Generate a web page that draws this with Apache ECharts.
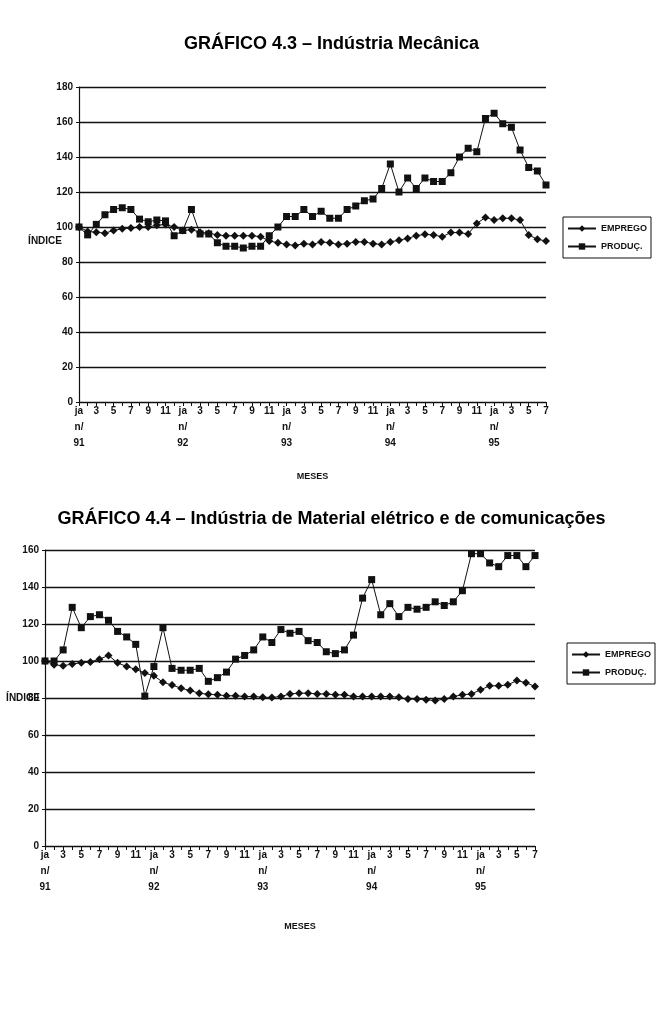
<!DOCTYPE html>
<html>
<head>
<meta charset="UTF-8">
<title>Graficos 4.3 e 4.4</title>
<script src="https://cdn.jsdelivr.net/npm/echarts@6/dist/echarts.min.js"></script>
<style>body{margin:0;background:#fff;}</style>
</head>
<body>
<div id="myChart" style="width:663px;height:1020px;"></div>
<script type="text/javascript">
// meses jan/91 .. jul/95 (so os impares aparecem no eixo)
var meses = [
  'ja\nn/\n91','2','3','4','5','6','7','8','9','10','11','12',
  'ja\nn/\n92','2','3','4','5','6','7','8','9','10','11','12',
  'ja\nn/\n93','2','3','4','5','6','7','8','9','10','11','12',
  'ja\nn/\n94','2','3','4','5','6','7','8','9','10','11','12',
  'ja\nn/\n95','2','3','4','5','6','7'
];

// GRAFICO 4.3 - Industria Mecanica
var emprego43 = [100,97.5,97,96.5,98,99,99.5,100,100,101,101.5,100,
  98,98.5,97,96.5,95.5,95,95,95,95,94.5,92,91,
  90,89.5,90.5,90,91.5,91,90,90.5,91.5,91.5,90.5,90,
  91.5,92.5,93.5,95,95.8,95.4,94.5,96.8,96.8,96,102,105.5,
  104,105,105,104,95.5,93,92];
var producao43 = [100,95.5,101.5,107,110,111,110,104.5,103,104,103.5,95,
  98,110,96,96,91,89,89,88,89,89,95,100,
  106,106,110,106,109,105,105,110,112,115,116,122,
  136,120,128,122,128,126,126,131,140,145,143,162,
  165,159,157,144,134,132,124];

// GRAFICO 4.4 - Material eletrico e de comunicacoes
var emprego44 = [100,98,97.4,98.4,99,99.5,101,103,99,97,95.5,93.5,
  92,88.5,87,85.3,84,82.6,82,81.7,81.2,81.2,80.8,80.8,
  80.4,80.3,80.8,82.2,82.6,82.6,82.2,82.2,81.7,81.7,80.8,80.8,
  80.8,80.8,80.8,80.4,79.4,79.4,79,78.6,79.4,80.8,81.7,82.2,
  84.4,86.6,86.6,87.1,89.4,88.3,86.2];
var producao44 = [100,100,106,129,118,124,125,122,116,113,109,81,
  97,118,96,95,95,96,89,91,94,101,103,106,
  113,110,117,115,116,111,110,105,104,106,114,134,
  144,125,131,124,129,128,129,132,130,132,138,158,
  158,153,151,157,157,151,157];

var fonte = 'Liberation Sans Narrow, Liberation Sans, Arial, sans-serif';
var tinta = '#111';

var myChart = echarts.init(document.getElementById('myChart'));

function eixoX(grid, gap, desloc) {
  return {
    type: 'category', gridIndex: grid, data: meses, boundaryGap: false,
    name: 'MESES', nameLocation: 'middle', nameGap: gap,
    nameTextStyle: {color: tinta, fontSize: 9, fontWeight: 'bold', fontFamily: fonte,
      padding: [0, 0, 0, desloc]},
    axisLine: {lineStyle: {color: tinta, width: 1.2}},
    axisTick: {interval: 0, length: 4, lineStyle: {color: tinta}},
    axisLabel: {interval: 1, color: tinta, fontSize: 10, fontWeight: 'bold',
      fontFamily: fonte, lineHeight: 16, margin: 1}
  };
}
function eixoY(grid, max) {
  return {
    type: 'value', gridIndex: grid, min: 0, max: max, interval: 20,
    axisLine: {show: true, lineStyle: {color: tinta, width: 1.2}},
    axisTick: {show: true, length: 3, lineStyle: {color: tinta}},
    axisLabel: {color: tinta, fontSize: 10, fontWeight: 'bold', fontFamily: fonte, margin: 6},
    splitLine: {lineStyle: {color: tinta, width: 1.4}}
  };
}
function serie(nome, dados, simbolo, tam, eixo) {
  return {
    name: nome, type: 'line', data: dados, xAxisIndex: eixo, yAxisIndex: eixo,
    symbol: simbolo, symbolSize: tam, showAllSymbol: true,
    lineStyle: {color: tinta, width: 1},
    itemStyle: {color: tinta}
  };
}
function rotulo(x, y) {
  return {type: 'text', x: x, y: y, style: {text: 'ÍNDICE', align: 'right', verticalAlign: 'middle',
    fill: tinta, font: 'bold 10px ' + fonte}};
}
var legendaBase = {
  orient: 'vertical', data: ['EMPREGO', 'PRODUÇ.'],
  borderColor: tinta, borderWidth: 1, padding: [7, 4, 7, 4], itemGap: 9,
  itemWidth: 28, itemHeight: 8,
  textStyle: {color: tinta, fontSize: 9, fontWeight: 'bold', fontFamily: fonte}
};

var option = {
  backgroundColor: '#fff',
  animation: false,
  title: [
    {text: 'GRÁFICO 4.3 – Indústria Mecânica', left: 'center', top: 30,
     textStyle: {fontSize: 18, fontWeight: 'bold', color: '#000', fontFamily: 'Liberation Sans, Arial, sans-serif'}},
    {text: 'GRÁFICO 4.4 – Indústria de Material elétrico e de comunicações', left: 'center', top: 505,
     textStyle: {fontSize: 18, fontWeight: 'bold', color: '#000', fontFamily: 'Liberation Sans, Arial, sans-serif'}}
  ],
  legend: [
    Object.assign({left: 563, top: 217}, legendaBase),
    Object.assign({left: 567, top: 643}, legendaBase)
  ],
  grid: [
    {left: 79, top: 87, width: 467, height: 315, outerBoundsMode: 'none'},
    {left: 45, top: 550, width: 490, height: 296, outerBoundsMode: 'none'}
  ],
  graphic: [rotulo(62, 241), rotulo(40, 698)],
  xAxis: [eixoX(0, 70, 0), eixoX(1, 76, 20)],
  yAxis: [eixoY(0, 180), eixoY(1, 160)],
  series: [
    serie('EMPREGO', emprego43, 'diamond', 8, 0),
    serie('PRODUÇ.', producao43, 'rect', 7, 0),
    serie('EMPREGO', emprego44, 'diamond', 8, 1),
    serie('PRODUÇ.', producao44, 'rect', 7, 1)
  ]
};

myChart.setOption(option);
</script>
</body>
</html>
